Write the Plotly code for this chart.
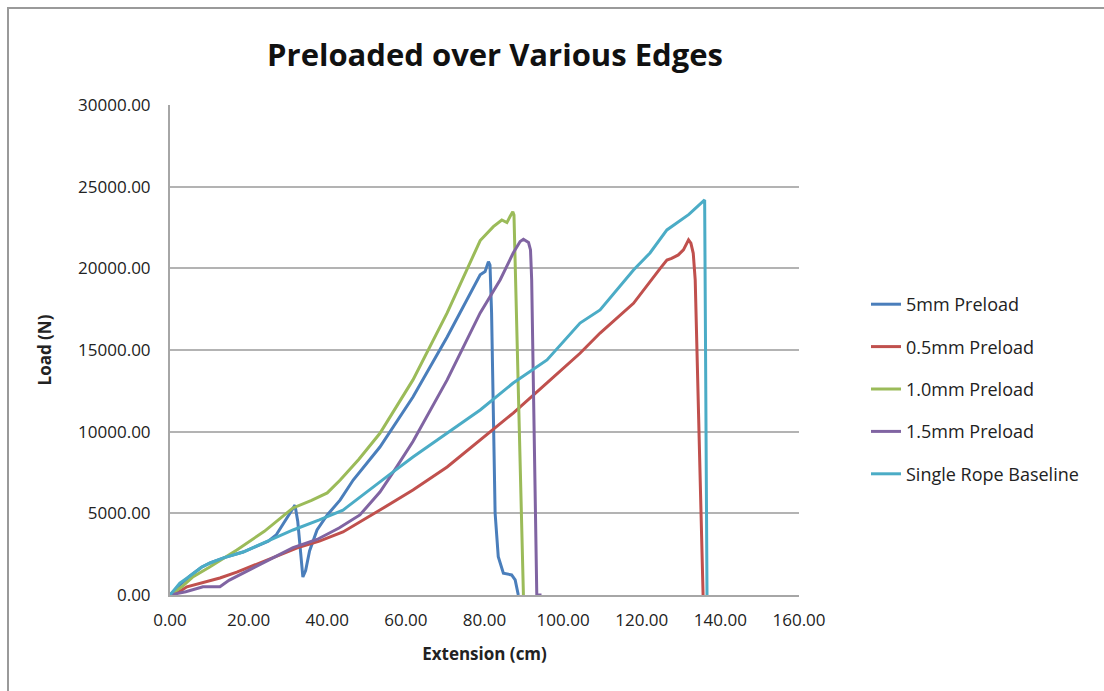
import plotly.graph_objects as go

# ---------------- data ----------------
x_5mm = [0, 2, 5, 8, 10.2, 14, 18.6, 25, 27, 29, 31.8, 32.5, 33.2, 33.8, 34.5, 35.5, 37.4, 40, 43.3,
         46.6, 53.4, 61.8, 70.5, 78.9, 80.15, 81.0, 81.4, 81.8, 82.25, 82.7, 83.5, 84.8, 86.9, 87.8, 88.6]
y_5mm = [0, 500, 1150, 1700, 1960, 2300, 2630, 3300, 3670, 4400, 5500, 4500, 2500, 1100, 1500, 2700,
         3980, 4900, 5820, 7040, 9060, 12120, 15800, 19600, 19800, 20410, 20200, 17270, 11150, 5020,
         2350, 1330, 1230, 920, 0]

x_05mm = [0, 2, 4.3, 8, 12.7, 17, 22.9, 28, 33, 38, 44, 53.4, 61.8, 70.5, 78.9, 87.3, 95.9, 104.3,
          109.4, 117.9, 124.7, 126.4, 127.6, 129.3, 130.6, 131.9, 132.5, 133.1, 133.6, 134.0, 134.4,
          134.9, 135.3, 135.6]
y_05mm = [0, 150, 500, 750, 1040, 1400, 1960, 2450, 2940, 3300, 3860, 5200, 6430, 7840, 9490, 11140,
          12980, 14800, 16040, 17860, 20000, 20510, 20610, 20820, 21130, 21740, 21540, 20920, 19290,
          15200, 11130, 7040, 2960, 0]

x_10mm = [0, 3, 5.9, 10, 17, 24, 31.3, 36, 40, 43.3, 48, 53.4, 61.8, 70.5, 78.9, 82.25, 84.4, 85.7,
          86.5, 87.2, 87.5, 89.9]
y_10mm = [0, 500, 1120, 1700, 2760, 3900, 5330, 5800, 6250, 7040, 8300, 9900, 13170, 17270, 21700,
          22550, 22960, 22800, 23170, 23470, 23270, 0]

x_15mm = [0, 4, 8.4, 12.7, 15, 18.6, 25, 31.3, 37.4, 43, 48.3, 53.4, 57, 61.8, 70.5, 78.9, 84, 87.3,
          89.06, 89.9, 91.2, 91.7, 92.0, 92.4, 92.9, 93.3, 94.5]
y_15mm = [0, 200, 500, 500, 900, 1350, 2150, 2900, 3400, 4100, 4900, 6300, 7600, 9400, 13170, 17270,
          19300, 20940, 21640, 21780, 21580, 21130, 19290, 13170, 7040, 0, 0]

x_base = [0, 2.5, 5, 8, 10.2, 14, 18.6, 25, 31.3, 38, 44, 50, 53.4, 56, 61.8, 70.5, 78.9, 87.3, 95.9,
          104.3, 109.4, 117.9, 122.1, 126.4, 132, 136.0, 136.3, 136.6]
y_base = [0, 730, 1150, 1700, 1960, 2300, 2630, 3300, 3980, 4600, 5200, 6300, 6950, 7400, 8450, 9920,
          11330, 12980, 14390, 16650, 17450, 19900, 20940, 22350, 23300, 24190, 12000, 0]

series_names = ["5mm Preload", "0.5mm Preload", "1.0mm Preload", "1.5mm Preload", "Single Rope Baseline"]
series_x = [x_5mm, x_05mm, x_10mm, x_15mm, x_base]
series_y = [y_5mm, y_05mm, y_10mm, y_15mm, y_base]
series_colors = ["#4A7EBB", "#C0504D", "#9BBB59", "#8064A2", "#4BACC6"]

x_ticks = [0, 20, 40, 60, 80, 100, 120, 140, 160]
y_ticks = [0, 5000, 10000, 15000, 20000, 25000, 30000]

# ---------------- figure ----------------
FONT = "Open Sans"
fig = go.Figure()
for name, xs, ys, col in zip(series_names, series_x, series_y, series_colors):
    fig.add_trace(go.Scatter(x=xs, y=ys, mode="lines", name=name, legendgroup=name,
                             line=dict(color=col, width=3)))

W, H = 1104, 691
L, R, T, B = 170, 305, 105, 96
pw, ph = W - L - R, H - T - B

def px(xp):
    return (xp - L) / pw

def py(yp):
    return (H - B - yp) / ph

fig.update_layout(
    width=W, height=H,
    margin=dict(l=L, r=R, t=T, b=B),
    paper_bgcolor="white", plot_bgcolor="white",
    font=dict(family=FONT, color="#222222"),
    title=dict(text="<b>Preloaded over Various Edges</b>", x=px(495), xanchor="center",
               y=1 - 55 / H, yanchor="middle", xref="paper",
               font=dict(size=31, family=FONT, color="#111111")),
    xaxis=dict(range=[0, 160], tickvals=x_ticks, ticktext=[f"{v:.2f}" for v in x_ticks],
               showgrid=False, zeroline=False, showline=True, linecolor="#a6a6a6", linewidth=2,
               ticks="", ticklabelstandoff=9, tickfont=dict(size=17, color="#222222"),
               title=dict(text="<b>Extension (cm)</b>", font=dict(size=17), standoff=18)),
    yaxis=dict(range=[0, 30000], tickvals=y_ticks, ticktext=[f"{v:.2f}" for v in y_ticks],
               showgrid=True, gridcolor="#b3b3b3", gridwidth=2, zeroline=False,
               showline=True, linecolor="#a6a6a6", linewidth=2, ticks="",
               ticklabelstandoff=14, tickfont=dict(size=17, color="#222222"),
               title=dict(text="<b>Load (N)</b>", font=dict(size=17), standoff=22)),
    legend=dict(x=px(866), y=py(286), xanchor="left", yanchor="top",
                font=dict(size=18, family=FONT, color="#222222"),
                traceorder="grouped", tracegroupgap=16, bgcolor="rgba(0,0,0,0)"),
    showlegend=True,
)

# outer chart frame
fig.add_shape(type="rect", xref="paper", yref="paper",
              x0=px(8), x1=px(1120), y0=py(720), y1=py(8),
              line=dict(color="#9a9a9a", width=2), layer="below")

fig.write_html("out.html")
